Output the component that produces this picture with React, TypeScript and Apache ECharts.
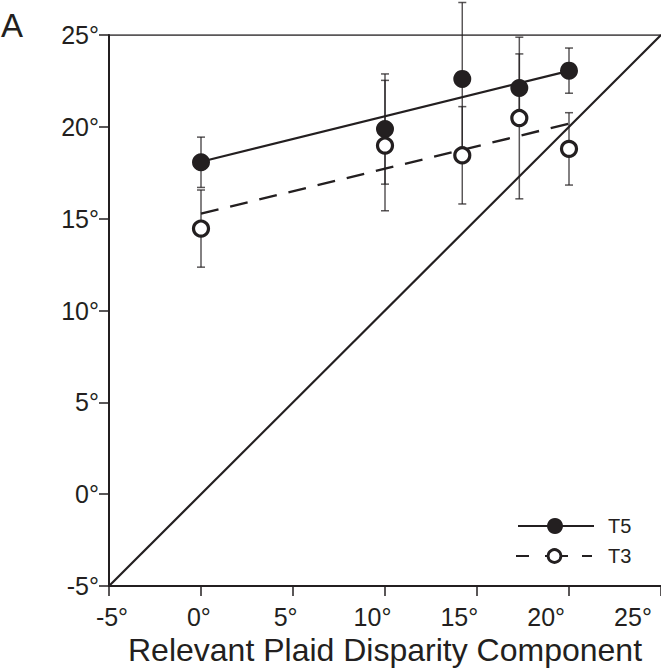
import React, { useEffect, useRef } from "react";
import * as echarts from "echarts";

// Data
const xValues = [0, 10, 14.2, 17.3, 20];
const t5Mean = [18.07, 19.88, 22.61, 22.11, 23.06];
const t5Err = [1.37, 3.0, 4.16, 1.86, 1.23];
const t3Mean = [14.46, 18.98, 18.45, 20.48, 18.8];
const t3Err = [2.1, 3.55, 2.65, 4.4, 1.97];
const t5Fit = [[0, 18.1], [20, 23.05]];
const t3Fit = [[0, 15.27], [20, 20.17]];
const identityLine = [[-5, -5], [25, 25]];
const topBorder = [[-5, 25], [25, 25]];
const axisMin = -5;
const axisMax = 25;
const axisStep = 5;
const xTitle = "Relevant Plaid Disparity Component";
const panelLabel = "A";
const legendNames = ["T5", "T3"];

const INK = "#231f20";
const FONT = "'Liberation Sans', Arial, sans-serif";

export default function App() {
  const ref = useRef<HTMLDivElement>(null);
  useEffect(() => {
    if (!ref.current) return;
    const chart = echarts.init(ref.current, null, { renderer: "svg" });

    const errData = (means: number[], errs: number[]) =>
      xValues.map((x, i) => [x, means[i] - errs[i], means[i] + errs[i]]);

    const makeErr = (name: string, means: number[], errs: number[]) => ({
      type: "custom",
      name,
      xAxisIndex: 0,
      yAxisIndex: 0,
      clip: false,
      z: 1,
      data: errData(means, errs),
      renderItem: (_p: any, api: any) => {
        const x = api.value(0);
        const lo = api.value(1);
        const hi = api.value(2);
        const a = api.coord([x, hi]);
        const b = api.coord([x, lo]);
        const st = { stroke: "rgba(35,31,32,0.75)", lineWidth: 1.5 };
        return {
          type: "group",
          children: [
            { type: "line", shape: { x1: a[0], y1: a[1], x2: b[0], y2: b[1] }, style: st },
            { type: "line", shape: { x1: a[0] - 4, y1: a[1], x2: a[0] + 4, y2: a[1] }, style: st },
            { type: "line", shape: { x1: b[0] - 4, y1: b[1], x2: b[0] + 4, y2: b[1] }, style: st },
          ],
        };
      },
    });

    const lx = 518;
    const ly1 = 526;
    const ly2 = 556;

    chart.setOption({
      animation: false,
      backgroundColor: "#ffffff",
      textStyle: { fontFamily: FONT, color: INK },
      grid: [
        { left: 109, top: 35, width: 552, height: 553 },
        { left: 112, top: 35, width: 521, height: 553 },
      ],
      xAxis: [
        {
          gridIndex: 0,
          type: "value",
          min: axisMin,
          max: axisMax,
          interval: axisStep,
          splitLine: { show: false },
          axisLine: { show: true, onZero: false, lineStyle: { color: INK, width: 2 } },
          axisTick: { show: true, inside: false, length: 10, lineStyle: { color: INK, width: 1.5 } },
          axisLabel: { show: false },
          name: xTitle,
          nameLocation: "middle",
          nameGap: 48,
          nameTextStyle: { fontFamily: FONT, fontSize: 32, color: INK },
        },
        {
          gridIndex: 1,
          type: "value",
          min: axisMin,
          max: axisMax,
          interval: axisStep,
          splitLine: { show: false },
          axisLine: { show: false, onZero: false },
          axisTick: { show: false },
          axisLabel: {
            show: true,
            margin: 16,
            fontSize: 25,
            fontFamily: FONT,
            color: INK,
            showMinLabel: true,
            showMaxLabel: true,
            formatter: (v: number) => `${v}°`,
          },
        },
      ],
      yAxis: [
        {
          gridIndex: 0,
          type: "value",
          min: axisMin,
          max: axisMax,
          interval: axisStep,
          splitLine: { show: false },
          axisLine: { show: true, onZero: false, lineStyle: { color: INK, width: 2 } },
          axisTick: { show: true, inside: false, length: 10, lineStyle: { color: INK, width: 1.5 } },
          axisLabel: {
            show: true,
            margin: 10,
            fontSize: 25,
            fontFamily: FONT,
            color: INK,
            showMinLabel: true,
            showMaxLabel: true,
            formatter: (v: number) => `${v}°`,
          },
        },
        {
          gridIndex: 1,
          type: "value",
          min: axisMin,
          max: axisMax,
          show: false,
          axisLine: { onZero: false },
        },
      ],
      series: [
        {
          type: "line",
          data: topBorder,
          symbol: "none",
          lineStyle: { color: INK, width: 1.5 },
          z: 1,
          silent: true,
        },
        {
          type: "line",
          data: identityLine,
          symbol: "none",
          lineStyle: { color: INK, width: 2.2 },
          z: 1,
          silent: true,
        },
        makeErr("T5 err", t5Mean, t5Err),
        makeErr("T3 err", t3Mean, t3Err),
        {
          type: "line",
          name: "T5 fit",
          data: t5Fit,
          symbol: "none",
          lineStyle: { color: INK, width: 2.2 },
          z: 2,
        },
        {
          type: "line",
          name: "T3 fit",
          data: t3Fit,
          symbol: "none",
          lineStyle: { color: INK, width: 2.4, type: [18, 12] },
          z: 2,
        },
        {
          type: "scatter",
          name: "T5",
          data: xValues.map((x, i) => [x, t5Mean[i]]),
          symbol: "circle",
          symbolSize: 18,
          itemStyle: { color: INK, opacity: 1 },
          z: 3,
        },
        {
          type: "scatter",
          name: "T3",
          data: xValues.map((x, i) => [x, t3Mean[i]]),
          symbol: "circle",
          symbolSize: 15,
          itemStyle: { color: "#ffffff", borderColor: INK, borderWidth: 3.2, opacity: 1 },
          z: 3,
        },
      ],
      graphic: [
        {
          type: "text",
          left: 1,
          top: 9,
          style: { text: panelLabel, fontSize: 33, fontFamily: FONT, fill: INK },
        },
        { type: "line", shape: { x1: lx, y1: ly1, x2: lx + 76, y2: ly1 }, style: { stroke: INK, lineWidth: 2 } },
        { type: "circle", shape: { cx: 555, cy: ly1, r: 8 }, style: { fill: INK } },
        {
          type: "text",
          x: 608,
          y: ly1,
          style: { text: legendNames[0], fontSize: 20, fontFamily: FONT, fill: INK, verticalAlign: "middle" },
        },
        { type: "line", shape: { x1: 516, y1: ly2, x2: 529, y2: ly2 }, style: { stroke: INK, lineWidth: 2 } },
        { type: "line", shape: { x1: 545, y1: ly2, x2: 568, y2: ly2 }, style: { stroke: INK, lineWidth: 2 } },
        { type: "line", shape: { x1: 582, y1: ly2, x2: 592, y2: ly2 }, style: { stroke: INK, lineWidth: 2 } },
        { type: "circle", shape: { cx: 554.5, cy: ly2, r: 6.4 }, style: { fill: "#ffffff", stroke: INK, lineWidth: 2.8 } },
        {
          type: "text",
          x: 608,
          y: ly2,
          style: { text: legendNames[1], fontSize: 20, fontFamily: FONT, fill: INK, verticalAlign: "middle" },
        },
      ],
    });
    return () => chart.dispose();
  }, []);

  return (
    <div
      ref={ref}
      style={{ position: "fixed", left: 0, top: 0, width: 661, height: 671, background: "#fff" }}
    />
  );
}
